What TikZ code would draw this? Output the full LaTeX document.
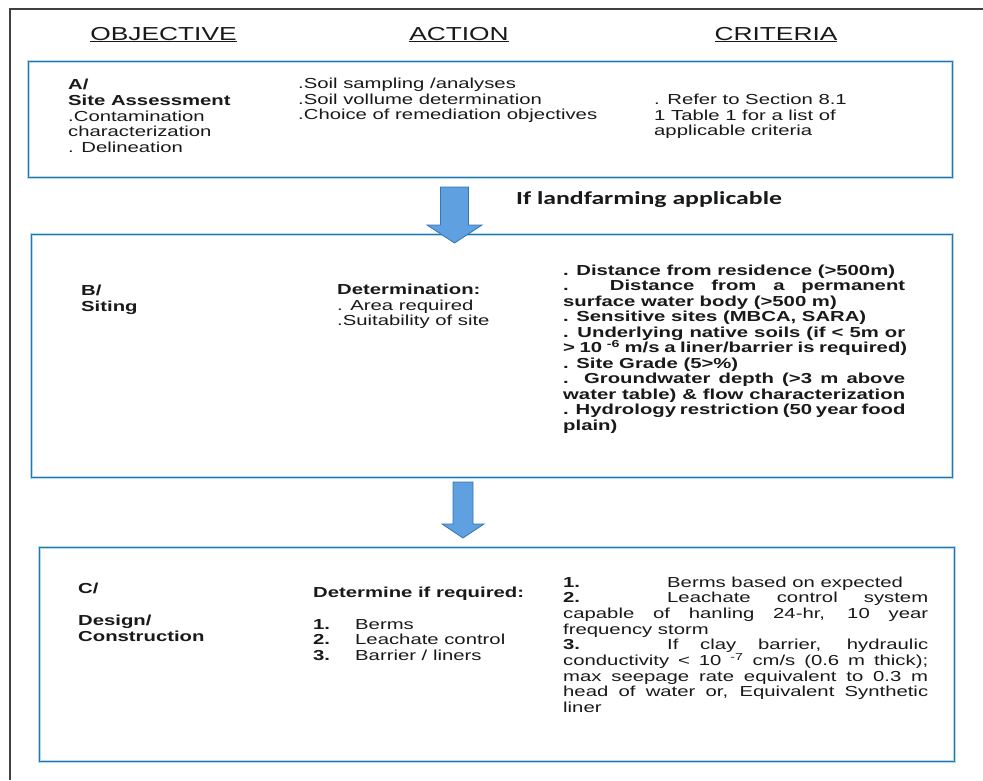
\documentclass[tikz,border=0pt]{standalone}
\usepackage{fontspec}
\setmainfont{Liberation Sans}[FakeStretch=1.40]
\newfontfamily\calfont{Carlito}[FakeStretch=1.40]
\usetikzlibrary{calc}
\definecolor{boxblue}{RGB}{45,115,165}
\definecolor{halo}{RGB}{175,218,240}
\definecolor{arrowfill}{RGB}{95,160,225}
\definecolor{arrowline}{RGB}{55,115,175}
\definecolor{ink}{RGB}{25,25,25}
\newcommand{\jl}[2]{\makebox[#1][s]{#2}}
\newcommand{\txtsize}{\fontsize{14.5}{15.6}\selectfont}
\begin{document}
\begin{tikzpicture}[x=1pt,y=-1pt,
  txt/.style={anchor=base west, inner sep=0pt, font=\txtsize, text=ink},
  btxt/.style={anchor=base west, inner sep=0pt, font=\txtsize\bfseries, text=ink},
  hdr/.style={anchor=base, inner sep=0pt, font=\fontsize{18.8}{20}\selectfont, text=ink},
  panel/.style={draw=boxblue, line width=1.2pt, anchor=north west, inner sep=0pt,
    preaction={draw=halo, line width=3.6pt}},
  blockarrow/.style={fill=arrowfill, draw=arrowline, line width=0.8pt, line join=miter}
]
\useasboundingbox (0,0) rectangle (983,780);
\fill[white] (0,0) rectangle (983,780);

% outer frame
\draw[line width=1.6pt, color=black!75] (10,780) -- (10,9) -- (983,9);

% headers
\node[hdr] (hObj) at (163.5,40) {\underline{OBJECTIVE}};
\node[hdr] (hAct) at (459,40) {\underline{ACTION}};
\node[hdr] (hCri) at (776,40) {\underline{CRITERIA}};

% panels
\node[panel, minimum width=924pt, minimum height=116pt] (boxA) at (28,61) {};
\node[panel, minimum width=921pt, minimum height=243pt] (boxB) at (31,234) {};
\node[panel, minimum width=915pt, minimum height=214pt] (boxC) at (39,547) {};

% block arrows
\coordinate (ar1) at (454.5,187);
\draw[blockarrow] (ar1) ++(-14,0) -- ++(28,0) -- ++(0,38) -- ++(13.5,0) -- ++(-27.5,18) -- ++(-27.5,-18) -- ++(13.5,0) -- cycle;
\coordinate (ar2) at (463,482);
\draw[blockarrow] (ar2) ++(-10,0) -- ++(20,0) -- ++(0,42) -- ++(11,0) -- ++(-21,14) -- ++(-21,-14) -- ++(11,0) -- cycle;

\node[anchor=base west, inner sep=0pt, font=\calfont\bfseries\fontsize{18.4}{20}\selectfont, text=ink] (lf) at (516,204) {If landfarming applicable};

% ---- Panel A
\node[btxt] (aO1) at (68,89) {A/};
\node[btxt] (aO2) at (68,105) {Site Assessment};
\node[txt] (aO3) at (68,121) {.Contamination};
\node[txt] (aO4) at (68,136) {characterization};
\node[txt] (aO5) at (68,152) {. Delineation};

\node[txt] (aA1) at (298,88) {.Soil sampling /analyses};
\node[txt] (aA2) at (298,104) {.Soil vollume determination};
\node[txt] (aA3) at (298,119) {.Choice of remediation objectives};

\node[txt] (aC1) at (654,104) {. Refer to Section 8.1};
\node[txt] (aC2) at (654,120) {1 Table 1 for a list of};
\node[txt] (aC3) at (654,135) {applicable criteria};

% ---- Panel B
\node[btxt] (bO1) at (81,295) {B/};
\node[btxt] (bO2) at (81,311) {Siting};

\node[btxt] (bA1) at (337,294) {Determination:};
\node[txt] (bA2) at (337,310) {. Area required};
\node[txt] (bA3) at (337,325) {.Suitability of site};

\node[btxt] (bC1) at (563,275) {. Distance from residence (>500m)};
\node[btxt] (bC2) at (563,290.5) {\jl{342pt}{. Distance from a permanent}};
\node[btxt] (bC3) at (563,306) {surface water body (>500 m)};
\node[btxt] (bC4) at (563,321.5) {. Sensitive sites (MBCA, SARA)};
\node[btxt] (bC5) at (563,337) {\jl{342pt}{. Underlying native soils (if < 5m or}};
\node[btxt] (bC6) at (563,352.5) {\jl{344pt}{> 10 \textsuperscript{-6} m/s a liner/barrier is required)}};
\node[btxt] (bC7) at (563,368) {. Site Grade (5>\%)};
\node[btxt] (bC8) at (563,383.5) {\jl{342pt}{. Groundwater depth (>3 m above}};
\node[btxt] (bC9) at (563,399) {\jl{342pt}{water table) \& flow characterization}};
\node[btxt] (bC10) at (563,414.5) {\jl{342pt}{. Hydrology restriction (50 year food}};
\node[btxt] (bC11) at (563,430) {plain)};

% ---- Panel C
\node[btxt] (cO1) at (78,593) {C/};
\node[btxt] (cO2) at (78,625) {Design/};
\node[btxt] (cO3) at (78,641) {Construction};

\node[btxt] (cA0) at (313,597) {Determine if required:};
\node[btxt] (cN1) at (313,629) {1.};
\node[txt] (cA1) at (355,629) {Berms};
\node[btxt] (cN2) at (313,644) {2.};
\node[txt] (cA2) at (355,644) {Leachate control};
\node[btxt] (cN3) at (313,660) {3.};
\node[txt] (cA3) at (355,660) {Barrier / liners};

\node[btxt] (cC1n) at (563,587) {1.};
\node[txt] (cC1) at (667,587) {Berms based on expected};
\node[btxt] (cC2n) at (563,602.7) {2.};
\node[txt] (cC2) at (667,602.7) {\jl{261pt}{Leachate control system}};
\node[txt] (cC3) at (563,618.4) {\jl{365pt}{capable of hanling 24-hr, 10 year}};
\node[txt] (cC4) at (563,634.1) {frequency storm};
\node[btxt] (cC5n) at (563,649.8) {3.};
\node[txt] (cC5) at (667,649.8) {\jl{261pt}{If clay barrier, hydraulic}};
\node[txt] (cC6) at (563,665.5) {\jl{365pt}{conductivity < 10 \textsuperscript{-7} cm/s (0.6 m thick);}};
\node[txt] (cC7) at (563,681.2) {\jl{365pt}{max seepage rate equivalent to 0.3 m}};
\node[txt] (cC8) at (563,696.9) {\jl{365pt}{head of water or, Equivalent Synthetic}};
\node[txt] (cC9) at (563,712.6) {liner};
\end{tikzpicture}
\end{document}
